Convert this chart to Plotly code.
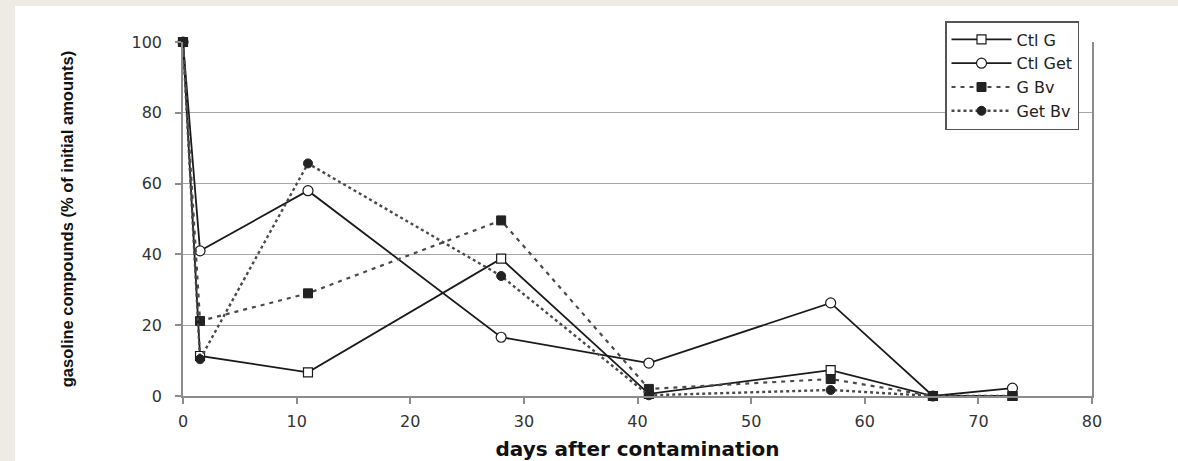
import plotly.graph_objects as go

# ---- data ----
days = [0, 1.5, 11, 28, 41, 57, 66, 73]
ctl_g = [100, 11.3, 6.7, 38.8, 0.6, 7.3, 0, 0]
ctl_get = [100, 41.0, 58.0, 16.6, 9.3, 26.3, 0, 2.2]
g_bv = [100, 21.2, 29.0, 49.6, 2.0, 4.8, 0, 0]
get_bv = [100, 10.4, 65.7, 33.9, 0.2, 1.7, 0, 0]

series_names = ["Ctl G", "Ctl Get", "G Bv", "Get Bv"]
x_ticks = [0, 10, 20, 30, 40, 50, 60, 70, 80]
y_ticks = [0, 20, 40, 60, 80, 100]

# ---- layout geometry (pixels) ----
W, H = 1178, 461
L, R, T, B = 183, 1178 - 1092, 42, 461 - 396
pw, ph = W - L - R, H - T - B
BEIGE = "#eeebe5"

fig = go.Figure()

styles = [
    dict(line=dict(color="#1a1a1a", width=1.8, dash="solid"),
         marker=dict(symbol="square", size=9, color="white", line=dict(color="#1a1a1a", width=1.2))),
    dict(line=dict(color="#1a1a1a", width=1.8, dash="solid"),
         marker=dict(symbol="circle", size=10, color="white", line=dict(color="#1a1a1a", width=1.2))),
    dict(line=dict(color="#4a4a4a", width=2.2, dash="4px,5px"),
         marker=dict(symbol="square", size=9, color="#222222", line=dict(color="#222222", width=1))),
    dict(line=dict(color="#4a4a4a", width=2.4, dash="dot"),
         marker=dict(symbol="circle", size=9, color="#222222", line=dict(color="#222222", width=1))),
]

for name, ys, st in zip(series_names, [ctl_g, ctl_get, g_bv, get_bv], styles):
    fig.add_trace(go.Scatter(x=days, y=ys, name=name, mode="lines+markers",
                             line=st["line"], marker=st["marker"], cliponaxis=False))

def px_x(p):
    return (p - L) / pw

def px_y(p):
    return (H - B - p) / ph

shapes = [
    dict(type="rect", xref="paper", yref="paper", layer="below",
         x0=px_x(0), x1=px_x(15), y0=px_y(H), y1=px_y(0),
         fillcolor=BEIGE, line=dict(width=0)),
    dict(type="rect", xref="paper", yref="paper", layer="below",
         x0=px_x(0), x1=px_x(W), y0=px_y(6), y1=px_y(0),
         fillcolor=BEIGE, line=dict(width=0)),
]

fig.update_layout(
    width=W, height=H,
    margin=dict(l=L, r=R, t=T, b=B, autoexpand=False),
    paper_bgcolor="white", plot_bgcolor="white",
    shapes=shapes,
    font=dict(family="DejaVu Sans, Verdana, sans-serif", color="#222222"),
    legend=dict(x=px_x(945), y=px_y(21), xanchor="left", yanchor="top",
                bgcolor="white", bordercolor="#555555", borderwidth=1.5,
                font=dict(size=16, family="DejaVu Sans, sans-serif", color="#222222"),
                tracegroupgap=0, itemwidth=60, entrywidth=162, entrywidthmode="pixels"),
    showlegend=True,
)

fig.update_xaxes(range=[0, 80], tickvals=x_ticks, showgrid=False, automargin=False,
                 showline=True, linecolor="#8c8c8c", linewidth=1.5, mirror=False,
                 ticks="outside", ticklen=6, tickcolor="#8c8c8c", tickwidth=1.5,
                 ticklabelstandoff=4,
                 tickfont=dict(size=16, color="#333333"), zeroline=False,
                 title=dict(text="<b>days after contamination</b>",
                            font=dict(size=20, family="DejaVu Sans, sans-serif", color="#111111"),
                            standoff=14))
fig.update_yaxes(range=[0, 100], tickvals=y_ticks, showgrid=True, automargin=False,
                 gridcolor="#a6a6a6", gridwidth=1.2,
                 showline=True, linecolor="#8c8c8c", linewidth=1.5, mirror=True,
                 ticks="outside", ticklen=6, tickcolor="#8c8c8c", tickwidth=1.5,
                 ticklabelstandoff=10,
                 tickfont=dict(size=16, color="#333333"), zeroline=False,
                 title=dict(text="<b>gasoline compounds (% of initial amounts)</b>",
                            font=dict(size=16.5, family="Liberation Sans, Arial, sans-serif",
                                      color="#111111"),
                            standoff=54))

fig.write_html("out.html", post_script="document.body.style.margin='0';",
               config={"displayModeBar": False})
